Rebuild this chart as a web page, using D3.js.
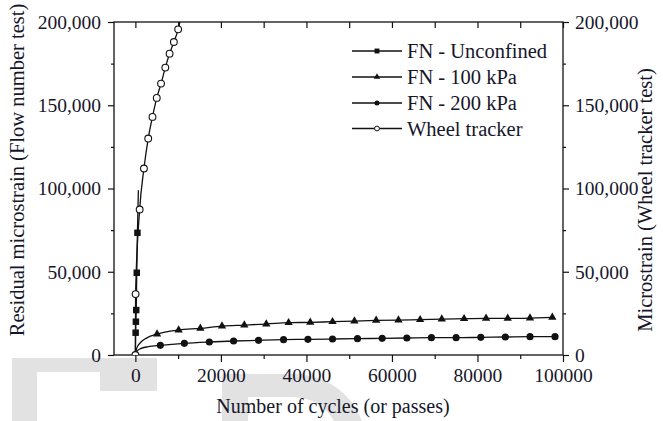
<!DOCTYPE html>
<html>
<head>
<meta charset="utf-8">
<script src="https://cdn.jsdelivr.net/npm/d3@7"></script>
<style>
  html, body { margin: 0; padding: 0; background: #ffffff; }
  svg { display: block; }
</style>
</head>
<body>
<svg id="chart" width="663" height="421"></svg>
<script>
// Flow number tests (cycles vs residual microstrain)
const unconfinedCycles = [60, 120, 200, 320, 480];
const unconfinedStrain = [13400, 20000, 27000, 49400, 73400];
const unconfinedTail = [[700, 99000]];

const kpa100Cycles = [5070, 10120, 15190, 20260, 25470, 30610, 35830, 40890, 46100, 51220,
                      56300, 61520, 66590, 71650, 76870, 82010, 87070, 92280, 97500];
const kpa100Strain = [12600, 15000, 16000, 17400, 18000, 18600, 19400, 19600, 20000, 20400,
                      20800, 21000, 21200, 21600, 21800, 22000, 22000, 22200, 22600];
const kpa100Lead = [[0, 0], [300, 4000], [1200, 7500], [2500, 10000]];

const kpa200Cycles = [5840, 11450, 17290, 22970, 28800, 34650, 40350, 46100, 51940,
                      57710, 63480, 69230, 75000, 80770, 86520, 92290, 98130];
const kpa200Strain = [5800, 7000, 7800, 8400, 8800, 9200, 9400, 9600, 9800,
                      10000, 10200, 10400, 10400, 10600, 10800, 11000, 11000];
const kpa200Lead = [[0, 0], [300, 2000], [1200, 3800], [3000, 5000]];

// Wheel tracker test (passes vs microstrain, right axis)
const wheelPasses = [0, 50, 1000, 2000, 3000, 4000, 5000, 6000, 7000, 8000, 9000, 10000];
const wheelStrain = [0, 36600, 87400, 112000, 130000, 143000, 154400, 163000, 172600, 181000, 188000, 195600];
const wheelTail = [[10400, 200000]];

const legendLabels = ["FN - Unconfined", "FN - 100 kPa", "FN - 200 kPa", "Wheel tracker"];
const xTickValues = [0, 20000, 40000, 60000, 80000, 100000];
const yTickValues = [0, 50000, 100000, 150000, 200000];

const letterFace = "'Liberation Serif'";
const ink = "#111111";
const textInk = "#16162a";

const svg = d3.select("#chart");

const plotLeft = 114, plotRight = 563, plotTop = 22, plotBottom = 355;
const x = d3.scaleLinear().domain([-5000, 100000]).range([plotLeft, plotRight]);
const y = d3.scaleLinear().domain([0, 200000]).range([plotBottom, plotTop]);
const yRight = d3.scaleLinear().domain([0, 200000]).range([plotBottom, plotTop]);

// faint grey page marks behind the lower axis area
const shade = svg.append("g").attr("fill", "#e2e2e2");
shade.append("path").attr("d", "M12,358 H157 V391 H100 V372 H37 V421 H12 Z");
shade.append("path").attr("d",
  "M222,374 H290 C330,374 352,396 362,421 H334 C326,406 312,397 290,397 H248 V421 H222 Z");

svg.append("defs").append("clipPath").attr("id", "plot-clip")
  .append("rect").attr("x", plotLeft).attr("y", plotTop)
  .attr("width", plotRight - plotLeft).attr("height", plotBottom - plotTop);

// axes
function styleAxis(g) {
  g.attr("font-family", null).attr("font-size", null);
  g.select(".domain").remove();
  g.selectAll(".tick line").attr("stroke", ink).attr("stroke-width", 1.2);
  g.selectAll(".tick text").attr("font-size", 19.5);
}
const steps = (a, b, s) => d3.range(a, b + 1, s);

svg.append("g").attr("transform", `translate(0,${plotBottom})`)
  .call(d3.axisBottom(x).tickValues(xTickValues).tickFormat(d3.format("d")).tickSize(7).tickPadding(6))
  .call(styleAxis);
svg.append("g").attr("transform", `translate(0,${plotBottom})`)
  .call(d3.axisBottom(x).tickValues(steps(10000, 90000, 20000)).tickFormat("").tickSize(4))
  .call(styleAxis);
svg.append("g").attr("transform", `translate(0,${plotTop})`)
  .call(d3.axisTop(x).tickValues(steps(0, 100000, 10000)).tickFormat("").tickSize(-6))
  .call(styleAxis);

svg.append("g").attr("transform", `translate(${plotLeft},0)`)
  .call(d3.axisLeft(y).tickValues(yTickValues).tickFormat(d3.format(",")).tickSize(6).tickPadding(7))
  .call(styleAxis);
svg.append("g").attr("transform", `translate(${plotLeft},0)`)
  .call(d3.axisLeft(y).tickValues(steps(25000, 175000, 50000)).tickFormat("").tickSize(3))
  .call(styleAxis);
svg.append("g").attr("transform", `translate(${plotRight},0)`)
  .call(d3.axisRight(yRight).tickValues(yTickValues).tickFormat(d3.format(",")).tickSize(6).tickPadding(6))
  .call(styleAxis);
svg.append("g").attr("transform", `translate(${plotRight},0)`)
  .call(d3.axisRight(yRight).tickValues(steps(25000, 175000, 50000)).tickFormat("").tickSize(3))
  .call(styleAxis);

svg.append("rect").attr("x", plotLeft).attr("y", plotTop)
  .attr("width", plotRight - plotLeft).attr("height", plotBottom - plotTop)
  .attr("fill", "none").attr("stroke", ink).attr("stroke-width", 1.3);

// axis titles
const titles = svg.append("g").attr("text-anchor", "middle");
titles.append("text").attr("x", 333).attr("y", 413).attr("font-size", 20)
  .text("Number of cycles (or passes)");
titles.append("text").attr("transform", "translate(24,170) rotate(-90)").attr("font-size", 20.5)
  .text("Residual microstrain (Flow number test)");
titles.append("text").attr("transform", "translate(652,200) rotate(-90)").attr("font-size", 20.5)
  .text("Microstrain (Wheel tracker test)");

// series
const zip = (xs, ys) => xs.map((v, i) => [v, ys[i]]);
const series = [
  { pts: zip(unconfinedCycles, unconfinedStrain),
    path: [[0, 0], ...zip(unconfinedCycles, unconfinedStrain), ...unconfinedTail],
    shape: d3.symbolSquare, size: 42, legendSize: 24, fill: ink, ys: y },
  { pts: zip(kpa100Cycles, kpa100Strain), path: [...kpa100Lead, ...zip(kpa100Cycles, kpa100Strain)],
    shape: d3.symbolTriangle, size: 30, legendSize: 18, fill: ink, ys: y },
  { pts: zip(kpa200Cycles, kpa200Strain), path: [...kpa200Lead, ...zip(kpa200Cycles, kpa200Strain)],
    shape: d3.symbolCircle, size: 40, legendSize: 20, fill: ink, ys: y },
  { pts: zip(wheelPasses, wheelStrain), path: [...zip(wheelPasses, wheelStrain), ...wheelTail],
    shape: d3.symbolCircle, size: 36, legendSize: 18, fill: "#ffffff", ys: yRight }
];

const plot = svg.append("g").attr("clip-path", "url(#plot-clip)");
series.forEach(s => {
  const line = d3.line().x(d => x(d[0])).y(d => s.ys(d[1])).curve(d3.curveMonotoneX);
  plot.append("path").datum(s.path).attr("d", line)
    .attr("fill", "none").attr("stroke", ink).attr("stroke-width", 1.3);
});
series.forEach(s => {
  plot.append("g").selectAll("path").data(s.pts).join("path")
    .attr("transform", d => `translate(${x(d[0])},${s.ys(d[1])})`)
    .attr("d", d3.symbol(s.shape, s.size))
    .attr("fill", s.fill).attr("stroke", ink).attr("stroke-width", s.fill === ink ? 0 : 1.1);
});

// legend
const legendRows = [51, 77, 103, 128.5];
const legend = svg.append("g");
series.forEach((s, i) => {
  const row = legend.append("g").attr("transform", `translate(0,${legendRows[i]})`);
  row.append("line").attr("x1", 352).attr("x2", 402).attr("stroke", ink).attr("stroke-width", 1.3);
  row.append("path").attr("transform", "translate(377,0)").attr("d", d3.symbol(s.shape, s.legendSize))
    .attr("fill", s.fill).attr("stroke", ink).attr("stroke-width", s.fill === ink ? 0 : 1);
  row.append("text").attr("x", 407).attr("y", 7).attr("font-size", 20.5).text(legendLabels[i]);
});

// Times-style lettering for every label
svg.selectAll("text")
  .style("font-family", letterFace)
  .attr("fill", textInk);
</script>
</body>
</html>
